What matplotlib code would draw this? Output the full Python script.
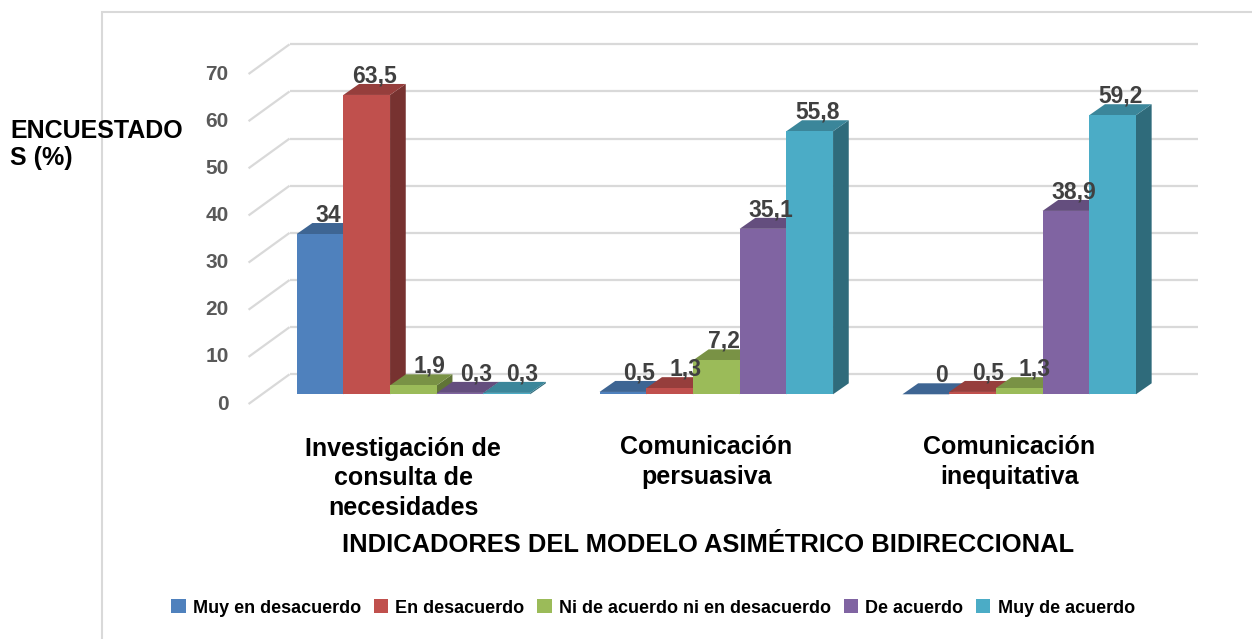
import matplotlib
matplotlib.use("Agg")
import matplotlib.pyplot as plt
from matplotlib.patches import Polygon, Rectangle, Patch
import numpy as np

plt.rcParams['font.family'] = ['Liberation Sans', 'DejaVu Sans']

# ---------------- data ----------------
categories = ["Investigación de\nconsulta de\nnecesidades",
              "Comunicación\npersuasiva",
              "Comunicación\ninequitativa"]
series = ["Muy en desacuerdo", "En desacuerdo", "Ni de acuerdo ni en desacuerdo",
          "De acuerdo", "Muy de acuerdo"]
muy_en_desacuerdo = [34, 0.5, 0]
en_desacuerdo = [63.5, 1.3, 0.5]
ni_ni = [1.9, 7.2, 1.3]
de_acuerdo = [0.3, 35.1, 38.9]
muy_de_acuerdo = [0.3, 55.8, 59.2]
values = [muy_en_desacuerdo, en_desacuerdo, ni_ni, de_acuerdo, muy_de_acuerdo]
yticks = [0, 10, 20, 30, 40, 50, 60, 70]

colors = ["#4F81BD", "#C0504D", "#9BBB59", "#8064A2", "#4BACC6"]

# ---------------- layout ----------------
W, H = 1252, 639
fig = plt.figure(figsize=(W / 100, H / 100), dpi=100)

X0_PX, XS = 413.4, 302.9     # pixel of category 0 centre, px per category
Y0_PX, YS = 394.3, 4.714     # pixel of value 0 (bar front), px per unit
L, R, T, B = 200, 1225, 20, 430

ax = fig.add_axes([L / W, (H - B) / H, (R - L) / W, (B - T) / H])
ax.set_xlim((L - X0_PX) / XS, (R - X0_PX) / XS)
ax.set_ylim((Y0_PX - B) / YS, (Y0_PX - T) / YS)
ax.axis("off")


def pdx(px):
    return px / XS


def pdy(px):
    return px / YS


def fx(px):
    return px / W


def fy(py):
    return 1 - py / H


def shade(c, f):
    rgb = np.array(matplotlib.colors.to_rgb(c))
    return tuple(rgb * f)


grid_c = "#D9D9D9"
# depth offsets (px)
BDX, BDY = 15.7, 11.0          # bar depth
WBX, WBY = 27.6, 20.0          # back wall offset from bar front plane
WFX, WFY = -13.4, -9.7         # front edge of side wall

ncat = len(categories)
wall_l, wall_r = -0.5, ncat - 0.5
for v in yticks:
    ax.plot([wall_l + pdx(WFX), wall_l + pdx(WBX)], [v + pdy(WFY), v + pdy(WBY)],
            color=grid_c, lw=1.6, zorder=0, solid_capstyle="butt")
    ax.plot([wall_l + pdx(WBX), wall_r + pdx(WBX)], [v + pdy(WBY)] * 2,
            color=grid_c, lw=1.6, zorder=0, solid_capstyle="butt")
    ax.text(wall_l + pdx(WFX) - pdx(20), v + pdy(WFY), str(v), ha="right", va="center",
            fontsize=15, fontweight="bold", color="#595959")

w = 46.7 / XS
ddx, ddy = pdx(BDX), pdy(BDY)
ns = len(series)


def fmt(v):
    s = ("%g" % v).replace(".", ",")
    return s


for i in range(ncat):
    for j in range(ns):
        v = values[j][i]
        xl = i - ns / 2 * w + j * w
        z = 2 + j * 0.1
        c = colors[j]
        # side face
        ax.add_patch(Polygon([(xl + w, 0), (xl + w + ddx, ddy), (xl + w + ddx, v + ddy), (xl + w, v)],
                             closed=True, facecolor=shade(c, 0.62), edgecolor="none", zorder=z))
        # top face
        ax.add_patch(Polygon([(xl, v), (xl + w, v), (xl + w + ddx, v + ddy), (xl + ddx, v + ddy)],
                             closed=True, facecolor=shade(c, 0.78), edgecolor="none", zorder=z))
        # front face
        ax.bar(xl, v, width=w, align="edge", color=c, zorder=z + 0.01, linewidth=0)
        off = ddx / 2 if v >= 5 else ddx
        ax.text(xl + w / 2 + off, v + ddy + pdy(8), fmt(v), ha="center", va="center",
                fontsize=16.5, fontweight="bold", color="#404040", zorder=10)

LINE_PX = 31.0
for i, cat in enumerate(categories):
    nlines = cat.count("\n") + 1
    base_last = 453 + (nlines - 1) * LINE_PX
    ax.text(i - pdx(10), (Y0_PX - base_last) / YS, cat, ha="center", va="baseline",
            fontsize=18, fontweight="bold", color="black", linespacing=1.2 * 31.0 / 28.7,
            clip_on=False)

# titles
fig.text(fx(10), fy(138.3), "ENCUESTADO", ha="left", va="baseline",
         fontsize=18, fontweight="bold", color="black")
fig.text(fx(10), fy(165), "S (%)", ha="left", va="baseline",
         fontsize=18, fontweight="bold", color="black")
fig.text(fx(708), fy(552.5), "INDICADORES DEL MODELO ASIMÉTRICO BIDIRECCIONAL",
         ha="center", va="baseline", fontsize=18.4, fontweight="bold", color="black")

# outer frame (partially visible)
fig.add_artist(Rectangle((fx(102), -0.1), 1.0, fy(12) + 0.1, transform=fig.transFigure,
                         fill=False, edgecolor="#D9D9D9", lw=1.5))

handles = [Patch(facecolor=c, edgecolor="none") for c in colors]
fig.legend(handles, series, loc="center", bbox_to_anchor=(fx(653), fy(608)), ncol=5,
           frameon=False, prop={"weight": "bold", "size": 13},
           handlelength=0.8, handleheight=0.8, handletextpad=0.4, columnspacing=0.7)

fig.savefig("out.png", dpi=100)
